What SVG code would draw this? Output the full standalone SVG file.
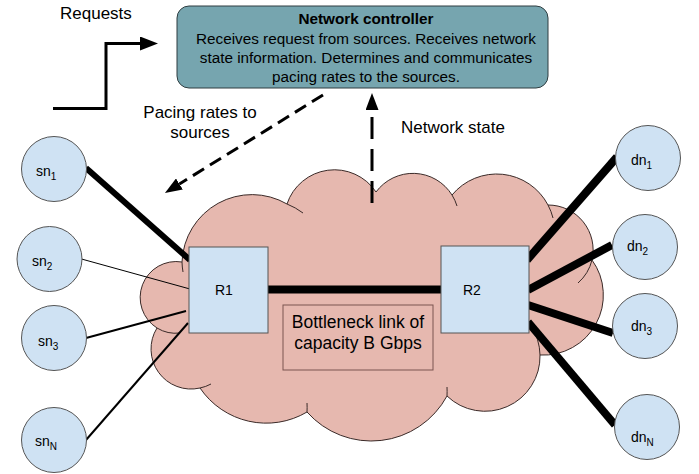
<svg xmlns="http://www.w3.org/2000/svg" width="699" height="474" viewBox="0 0 699 474">
<style>
text{font-family:"Liberation Sans",Arial,sans-serif;fill:#000}
.lbl{font-size:17px}
.ctl{font-size:15.3px;text-anchor:middle}
.node{fill:#cfe2f3;stroke:#555;stroke-width:1}
.nl{font-size:14px}
.sub{font-size:10px}
.rt{font-size:14px}
.cloud{fill:#e6b8af;stroke:#3a2a28;stroke-width:1}
.inner{fill:none;stroke:#3a2a28;stroke-width:1}
.ln{stroke:#000;fill:none;stroke-linecap:butt}
</style>
<defs>
<marker id="ah1" viewBox="0 0 18 14" refX="0" refY="7" markerWidth="18" markerHeight="14" markerUnits="userSpaceOnUse" orient="auto"><path d="M0,0 L18,7 L0,14 Z" fill="#000"/></marker>
<marker id="ah2" viewBox="0 0 17 13" refX="0" refY="6.5" markerWidth="17" markerHeight="13" markerUnits="userSpaceOnUse" orient="auto"><path d="M0,0 L17,6.5 L0,13 Z" fill="#000"/></marker>
</defs>
<rect width="699" height="474" fill="#fff"/>

<g id="cloud">
<path class="cloud" d="M182,262 A70 70 0 0 1 287,204 A50 50 0 0 1 376,192 A46 46 0 0 1 452,195 A58 58 0 0 1 548,205 A45 45 0 0 1 592,260 A60 60 0 0 1 540,355 A55 55 0 0 1 447,396 A86 86 0 0 1 307,412 A80 80 0 0 1 200,388 A40 40 0 0 1 157,328 A36 36 0 0 1 182,262 Z"/>
<path class="inner" d="M287,204 A70 70 0 0 1 303,213"/>
<path class="inner" d="M452,195 A46 46 0 0 1 457,206"/>
<path class="inner" d="M548,205 A58 58 0 0 1 553,218"/>
<path class="inner" d="M592,260 A45 45 0 0 1 578,283"/>
<path class="inner" d="M540,355 A55 55 0 0 0 531,326"/>
<path class="inner" d="M447,396 A86 86 0 0 0 447,387"/>
<path class="inner" d="M307,412 A80 80 0 0 0 307,403"/>
<path class="inner" d="M200,388 A40 40 0 0 0 211,384"/>
<path class="inner" d="M157,328 A36 36 0 0 0 180,333"/>
<path class="inner" d="M182,262 A70 70 0 0 0 183,272"/>
</g>

<g id="controller">
<rect x="177" y="6" width="371" height="82" rx="12" ry="12" fill="#76a5af" stroke="#2f3d40" stroke-width="1"/>
<text class="ctl" x="366" y="24" font-weight="bold">Network controller</text>
<text class="ctl" x="366" y="44">Receives request from sources. Receives network</text>
<text class="ctl" x="366" y="63">state information. Determines and communicates</text>
<text class="ctl" x="366" y="82">pacing rates to the sources.</text>
</g>

<g id="labels">
<text class="lbl" x="60" y="18.5">Requests</text>
<text class="lbl" x="200" y="118" text-anchor="middle">Pacing rates to</text>
<text class="lbl" x="200" y="138" text-anchor="middle">sources</text>
<text class="lbl" x="401" y="133">Network state</text>
</g>

<g id="connectors">
<polyline class="ln" points="53,108.5 106,108.5 106,43.5 140,43.5" stroke-width="3" marker-end="url(#ah1)"/>
<line class="ln" x1="323" y1="95" x2="179.4" y2="184" stroke-width="3" stroke-dasharray="13,7" marker-end="url(#ah2)"/>
<line class="ln" x1="372" y1="203" x2="372" y2="110" stroke-width="3" stroke-dasharray="22,10" marker-end="url(#ah2)"/>
<line class="ln" x1="268" y1="289.5" x2="441" y2="289.5" stroke-width="8"/>
<line class="ln" x1="86" y1="168" x2="190" y2="260" stroke-width="6"/>
<line class="ln" x1="81.5" y1="259" x2="190" y2="289" stroke-width="1"/>
<line class="ln" x1="86" y1="338" x2="186" y2="311" stroke-width="2"/>
<line class="ln" x1="86" y1="440" x2="188" y2="323" stroke-width="2"/>
<line class="ln" x1="527" y1="260" x2="617" y2="157" stroke-width="8"/>
<line class="ln" x1="528" y1="290" x2="612" y2="245" stroke-width="8"/>
<line class="ln" x1="528" y1="305" x2="613" y2="333" stroke-width="8"/>
<line class="ln" x1="528" y1="322" x2="615" y2="425" stroke-width="8"/>
</g>

<g id="R1">
<rect class="node" x="189" y="247" width="79" height="86"/>
<text class="rt" x="215" y="295">R1</text>
</g>
<g id="R2">
<rect class="node" x="441" y="246" width="88" height="87"/>
<text class="rt" x="463" y="295">R2</text>
</g>
<g id="bottleneck">
<rect x="283" y="305" width="150" height="65" fill="#e6b8af" stroke="#7a5550" stroke-width="1"/>
<text x="358" y="328" font-size="17.5" text-anchor="middle">Bottleneck link of</text>
<text x="358" y="349" font-size="17.5" text-anchor="middle">capacity B Gbps</text>
</g>

<g id="sn1"><circle class="node" cx="54" cy="169" r="32.5"/><text class="nl" x="36" y="176">sn<tspan class="sub" dy="4">1</tspan></text></g>
<g id="sn2"><circle class="node" cx="49.5" cy="259" r="32.5"/><text class="nl" x="32" y="266">sn<tspan class="sub" dy="4">2</tspan></text></g>
<g id="sn3"><circle class="node" cx="54" cy="338" r="32.5"/><text class="nl" x="38" y="346">sn<tspan class="sub" dy="4">3</tspan></text></g>
<g id="snN"><circle class="node" cx="54" cy="440" r="32.5"/><text class="nl" x="35" y="446">sn<tspan class="sub" dy="4">N</tspan></text></g>
<g id="dn1"><circle class="node" cx="648" cy="158" r="32.5"/><text class="nl" x="631" y="165">dn<tspan class="sub" dy="4">1</tspan></text></g>
<g id="dn2"><circle class="node" cx="645" cy="247" r="32.5"/><text class="nl" x="627" y="251">dn<tspan class="sub" dy="4">2</tspan></text></g>
<g id="dn3"><circle class="node" cx="645" cy="326" r="32.5"/><text class="nl" x="631" y="331">dn<tspan class="sub" dy="4">3</tspan></text></g>
<g id="dnN"><circle class="node" cx="647" cy="427" r="32.5"/><text class="nl" x="631" y="442">dn<tspan class="sub" dy="4">N</tspan></text></g>
</svg>
